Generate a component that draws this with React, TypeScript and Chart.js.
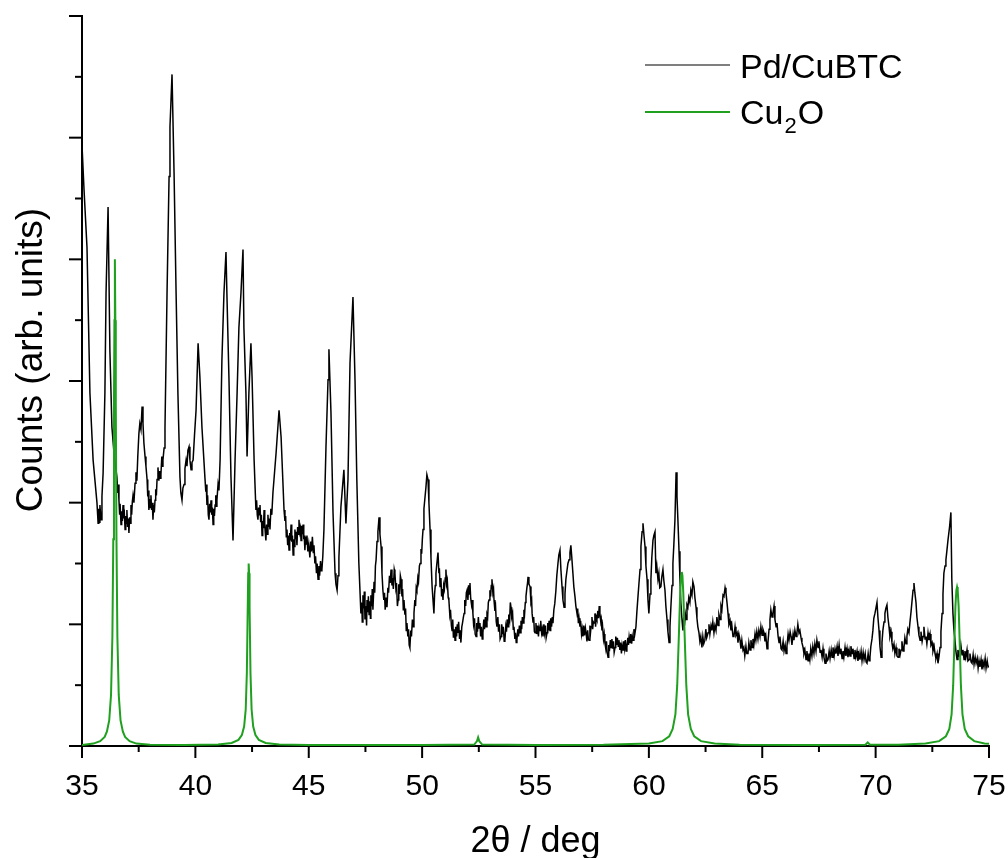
import React, { useEffect, useRef } from "react";
import { Chart, registerables } from "chart.js";

Chart.register(...registerables);

// X axis: 2θ in degrees; Y axis: counts (arbitrary units, no tick labels)
const xMin = 35;
const xMax = 75;
const xStep = 2.5;
const yMin = 0;
const yMax = 6000;
const yStep = 500;

const xTitle = "2θ / deg";
const yTitle = "Counts (arb. units)";
const seriesNames = ["Pd/CuBTC", "Cu", "2", "O"];

// Pd/CuBTC measured pattern [2θ, counts]
const pdPattern: [number, number][] = [
  [35.00,4940],[35.09,4570],[35.22,4100],[35.35,2900],[35.49,2350],[35.66,2000],[35.69,1900],[35.71,1830],[35.74,1950],[35.76,1840],
  [35.79,1980],[35.82,1900],[35.84,1860],[35.88,2050],[35.93,2240],[36.01,2900],[36.06,3720],[36.15,4430],[36.23,3250],[36.32,2620],
  [36.41,2410],[36.54,2210],[36.58,2080],[36.60,2150],[36.63,2020],[36.66,1900],[36.68,1990],[36.72,1820],[36.75,1930],[36.78,1850],
  [36.81,1980],[36.84,1870],[36.87,1900],[36.90,1780],[36.93,1890],[36.95,1830],[36.98,1940],[37.01,1800],[37.04,1870],[37.07,1750],
  [37.10,1880],[37.13,1830],[37.16,1980],[37.19,1900],[37.22,2010],[37.25,2060],[37.29,2000],[37.34,2160],[37.38,2250],[37.42,2180],
  [37.46,2380],[37.51,2570],[37.55,2650],[37.60,2600],[37.65,2790],[37.69,2650],[37.73,2490],[37.78,2380],[37.82,2300],[37.87,2190],
  [37.90,2050],[37.92,2100],[37.95,1940],[37.98,2030],[38.01,1960],[38.04,2060],[38.07,1940],[38.10,2000],[38.13,1860],[38.16,1980],
  [38.19,1920],[38.22,2020],[38.25,2110],[38.28,2060],[38.31,2190],[38.35,2290],[38.39,2180],[38.42,2260],[38.45,2200],[38.48,2230],
  [38.52,2380],[38.55,2300],[38.57,2350],[38.62,2450],[38.66,2620],[38.75,3720],[38.84,4680],[38.88,5090],[38.97,5520],[39.06,4710],
  [39.15,3720],[39.23,2900],[39.32,2210],[39.36,2080],[39.41,2020],[39.45,2120],[39.50,2150],[39.54,2280],[39.59,2350],[39.63,2300],
  [39.67,2430],[39.72,2460],[39.76,2350],[39.81,2270],[39.85,2330],[39.90,2350],[39.96,2550],[40.03,2760],[40.12,3310],[40.20,3030],
  [40.29,2620],[40.42,2210],[40.46,2090],[40.48,2150],[40.51,1980],[40.54,2060],[40.57,1900],[40.60,1860],[40.63,1990],[40.66,1920],
  [40.69,2020],[40.72,1900],[40.75,1960],[40.78,1820],[40.81,1950],[40.84,1890],[40.87,1980],[40.90,2060],[40.92,1970],[40.95,2020],
  [41.00,2150],[41.04,2100],[41.09,2350],[41.17,3170],[41.26,3720],[41.35,4060],[41.39,3720],[41.48,3030],[41.57,2210],[41.66,1690],
  [41.75,2350],[41.84,2900],[41.92,3440],[42.01,3720],[42.10,4080],[42.14,3440],[42.23,2900],[42.28,2380],[42.36,2900],[42.45,3310],
  [42.50,3030],[42.59,2350],[42.67,1940],[42.70,2020],[42.73,1900],[42.76,1860],[42.79,1960],[42.82,1900],[42.85,1980],[42.88,1840],
  [42.91,1900],[42.94,1730],[42.97,1850],[43.00,1790],[43.03,1940],[43.06,1820],[43.08,1760],[43.11,1690],[43.14,1820],[43.17,1740],
  [43.20,1900],[43.23,1800],[43.26,1870],[43.29,1780],[43.33,1950],[43.37,1900],[43.42,2080],[43.56,2410],[43.69,2760],[43.78,2540],
  [43.91,1940],[43.95,1850],[43.98,1890],[44.01,1720],[44.04,1780],[44.07,1650],[44.10,1730],[44.13,1610],[44.16,1750],[44.19,1690],
  [44.22,1820],[44.25,1680],[44.28,1730],[44.31,1570],[44.34,1700],[44.36,1640],[44.39,1780],[44.42,1700],[44.45,1760],[44.48,1650],
  [44.51,1800],[44.54,1740],[44.57,1860],[44.60,1760],[44.63,1790],[44.66,1690],[44.69,1810],[44.72,1740],[44.75,1820],[44.78,1700],
  [44.80,1730],[44.83,1610],[44.86,1720],[44.89,1660],[44.92,1730],[44.96,1600],[45.00,1660],[45.05,1550],[45.09,1680],[45.12,1600],
  [45.16,1720],[45.20,1590],[45.23,1650],[45.27,1500],[45.30,1560],[45.34,1420],[45.37,1500],[45.41,1370],[45.45,1480],[45.48,1400],
  [45.52,1520],[45.55,1440],[45.58,1450],[45.62,1560],[45.67,1780],[45.76,2460],[45.85,3010],[45.89,3260],[45.98,2740],[46.07,1920],
  [46.16,1420],[46.20,1330],[46.25,1280],[46.29,1400],[46.33,1550],[46.42,1970],[46.55,2270],[46.64,1830],[46.73,2190],[46.82,3150],
  [46.95,3690],[47.04,3010],[47.12,2190],[47.21,1500],[47.30,1090],[47.34,1180],[47.36,1020],[47.39,1240],[47.43,1130],[47.45,1270],
  [47.48,1040],[47.52,1150],[47.55,990],[47.57,1200],[47.61,1100],[47.63,1230],[47.66,1080],[47.70,1190],[47.72,1050],[47.74,1240],
  [47.78,1150],[47.80,1290],[47.83,1120],[47.88,1350],[47.91,1260],[47.94,1480],[47.97,1530],[48.01,1680],[48.05,1760],[48.10,1880],
  [48.14,1740],[48.19,1640],[48.23,1420],[48.27,1280],[48.31,1200],[48.34,1260],[48.37,1120],[48.41,1220],[48.45,1140],[48.49,1300],
  [48.52,1260],[48.56,1400],[48.59,1340],[48.63,1450],[48.67,1320],[48.70,1380],[48.73,1290],[48.77,1450],[48.80,1420],[48.84,1300],
  [48.87,1340],[48.91,1150],[48.94,1200],[48.97,1330],[49.01,1250],[49.04,1400],[49.07,1370],[49.11,1230],[49.14,1290],[49.17,1120],
  [49.20,1200],[49.24,1080],[49.27,1130],[49.30,950],[49.33,1010],[49.37,900],[49.40,960],[49.43,830],[49.46,810],[49.50,950],
  [49.53,900],[49.57,1040],[49.60,980],[49.64,1090],[49.68,1200],[49.71,1150],[49.74,1300],[49.77,1280],[49.81,1380],[49.84,1350],
  [49.88,1480],[49.91,1500],[49.95,1620],[49.98,1580],[50.01,1700],[50.04,1780],[50.08,1950],[50.12,2030],[50.17,2130],[50.21,2230],
  [50.26,2190],[50.30,2000],[50.35,1780],[50.39,1550],[50.44,1310],[50.48,1200],[50.52,1090],[50.55,1250],[50.58,1320],[50.61,1420],
  [50.65,1500],[50.70,1590],[50.74,1420],[50.76,1460],[50.79,1310],[50.83,1380],[50.86,1230],[50.89,1290],[50.92,1200],[50.95,1320],
  [50.98,1290],[51.02,1380],[51.05,1450],[51.08,1330],[51.11,1360],[51.15,1220],[51.18,1200],[51.22,1080],[51.25,1120],[51.29,990],
  [51.32,950],[51.35,1040],[51.38,890],[51.42,960],[51.45,870],[51.48,980],[51.52,900],[51.55,1000],[51.58,930],[51.61,1020],
  [51.65,880],[51.68,950],[51.71,850],[51.75,980],[51.78,1010],[51.82,1060],[51.85,1090],[51.88,1200],[51.92,1150],[51.95,1260],
  [51.98,1280],[52.02,1200],[52.05,1320],[52.08,1250],[52.11,1340],[52.14,1220],[52.18,1160],[52.21,1200],[52.24,1090],[52.27,1000],
  [52.31,1050],[52.34,920],[52.38,900],[52.41,1010],[52.44,940],[52.48,1060],[52.51,970],[52.55,1010],[52.58,900],[52.61,980],
  [52.65,880],[52.68,930],[52.72,1040],[52.75,960],[52.79,1060],[52.82,980],[52.86,1080],[52.89,1060],[52.92,1180],[52.95,1200],
  [52.99,1280],[53.02,1230],[53.05,1320],[53.08,1370],[53.12,1260],[53.15,1290],[53.17,1200],[53.21,1110],[53.24,1140],[53.27,1020],
  [53.30,980],[53.34,1060],[53.37,940],[53.41,1000],[53.44,880],[53.48,900],[53.51,1000],[53.55,920],[53.58,980],[53.62,860],
  [53.65,870],[53.69,980],[53.72,940],[53.75,1040],[53.79,980],[53.82,1080],[53.86,1040],[53.89,1180],[53.92,1140],[53.95,1060],
  [53.99,1090],[54.02,960],[54.05,980],[54.09,880],[54.12,930],[54.15,850],[54.18,870],[54.22,960],[54.25,900],[54.29,990],
  [54.32,930],[54.36,1030],[54.39,960],[54.42,1060],[54.45,1010],[54.49,1120],[54.52,1090],[54.55,1180],[54.58,1230],[54.62,1300],
  [54.65,1340],[54.67,1390],[54.71,1330],[54.76,1310],[54.80,1180],[54.83,1200],[54.85,1090],[54.89,1020],[54.92,1060],[54.95,940],
  [54.98,930],[55.02,1010],[55.05,920],[55.09,990],[55.13,900],[55.16,980],[55.20,950],[55.23,1030],[55.27,930],[55.30,960],
  [55.33,900],[55.37,1000],[55.40,930],[55.44,990],[55.47,890],[55.51,930],[55.54,1010],[55.57,950],[55.60,1030],[55.64,950],
  [55.67,1050],[55.71,980],[55.74,1060],[55.77,1010],[55.81,1120],[55.85,1170],[55.90,1280],[55.94,1400],[55.99,1500],[56.03,1570],
  [56.08,1610],[56.12,1450],[56.17,1310],[56.21,1200],[56.26,1140],[56.30,1250],[56.34,1370],[56.38,1430],[56.43,1500],[56.48,1530],
  [56.52,1590],[56.56,1650],[56.60,1550],[56.65,1420],[56.69,1310],[56.74,1230],[56.78,1150],[56.83,1090],[56.86,1130],[56.89,1010],
  [56.92,1050],[56.96,980],[56.99,1030],[57.03,920],[57.06,960],[57.09,900],[57.13,990],[57.16,910],[57.20,970],[57.23,930],
  [57.27,860],[57.30,950],[57.33,880],[57.36,870],[57.40,990],[57.43,940],[57.45,980],[57.49,1060],[57.52,960],[57.55,1020],
  [57.58,1010],[57.62,1090],[57.65,980],[57.68,1060],[57.71,1040],[57.75,1110],[57.78,1050],[57.81,1150],[57.84,1090],[57.88,1020],
  [57.90,1040],[57.93,950],[57.96,980],[58.00,880],[58.03,920],[58.06,850],[58.10,800],[58.13,860],[58.16,770],[58.20,730],
  [58.23,830],[58.26,780],[58.30,870],[58.33,810],[58.37,880],[58.40,800],[58.44,860],[58.47,770],[58.51,810],[58.54,900],
  [58.58,830],[58.61,890],[58.65,820],[58.68,870],[58.72,790],[58.75,850],[58.79,760],[58.82,830],[58.86,790],[58.89,860],
  [58.93,800],[58.96,870],[59.00,780],[59.03,810],[59.07,890],[59.10,830],[59.13,900],[59.17,850],[59.20,920],[59.24,840],
  [59.27,900],[59.30,870],[59.34,960],[59.38,920],[59.43,980],[59.47,1100],[59.52,1230],[59.56,1330],[59.61,1450],[59.65,1640],
  [59.70,1760],[59.74,1830],[59.78,1740],[59.83,1640],[59.87,1480],[59.92,1370],[59.96,1200],[60.00,1090],[60.05,1250],[60.09,1370],
  [60.13,1550],[60.18,1690],[60.22,1730],[60.27,1760],[60.31,1420],[60.35,1480],[60.40,1370],[60.44,1420],[60.48,1300],[60.53,1310],
  [60.57,1390],[60.62,1450],[60.66,1360],[60.71,1280],[60.75,1150],[60.80,1040],[60.84,940],[60.89,850],[60.93,980],[60.97,1140],
  [61.02,1320],[61.06,1500],[61.10,1650],[61.15,1860],[61.20,2250],[61.24,2050],[61.28,1860],[61.33,1600],[61.37,1370],[61.41,1180],
  [61.46,1040],[61.50,950],[61.54,1060],[61.57,990],[61.61,1080],[61.64,1040],[61.68,1160],[61.72,1140],[61.76,1220],[61.81,1180],
  [61.85,1280],[61.90,1240],[61.94,1350],[61.99,1310],[62.03,1220],[62.08,1140],[62.12,1050],[62.16,980],[62.21,930],[62.25,860],
  [62.29,900],[62.34,810],[62.38,900],[62.42,840],[62.47,870],[62.51,960],[62.55,890],[62.61,930],[62.65,1000],[62.69,920],
  [62.74,990],[62.78,950],[62.82,1020],[62.87,930],[62.91,990],[62.96,950],[63.00,1060],[63.05,990],[63.09,1080],[63.14,1040],
  [63.18,1150],[63.22,1120],[63.27,1240],[63.31,1230],[63.36,1300],[63.40,1260],[63.45,1170],[63.49,1090],[63.53,1000],[63.58,1030],
  [63.62,950],[63.66,990],[63.71,900],[63.75,900],[63.80,980],[63.84,910],[63.89,930],[63.93,850],[63.97,920],[64.02,870],
  [64.06,800],[64.10,870],[64.15,790],[64.19,810],[64.23,740],[64.28,820],[64.32,760],[64.37,760],[64.41,850],[64.46,790],
  [64.50,870],[64.55,810],[64.59,880],[64.63,830],[64.68,920],[64.72,870],[64.76,940],[64.81,880],[64.85,950],[64.90,900],
  [64.94,980],[64.99,910],[65.03,960],[65.08,930],[65.12,860],[65.16,900],[65.21,800],[65.25,850],[65.30,960],[65.34,1040],
  [65.38,1120],[65.43,1060],[65.47,1090],[65.52,1150],[65.56,1040],[65.61,980],[65.65,1010],[65.70,900],[65.74,850],[65.78,900],
  [65.83,800],[65.87,790],[65.92,860],[65.96,780],[66.01,830],[66.05,760],[66.09,820],[66.14,920],[66.18,870],[66.23,940],
  [66.27,900],[66.31,830],[66.36,920],[66.40,870],[66.44,950],[66.49,900],[66.53,930],[66.57,1000],[66.62,930],[66.66,950],
  [66.71,890],[66.75,850],[66.80,810],[66.84,760],[66.88,790],[66.93,710],[66.97,780],[67.02,700],[67.06,760],[67.10,710],
  [67.14,800],[67.19,740],[67.23,820],[67.28,760],[67.32,840],[67.37,780],[67.41,870],[67.46,810],[67.50,860],[67.55,770],
  [67.59,790],[67.64,730],[67.68,800],[67.72,730],[67.77,680],[67.81,760],[67.86,700],[67.90,710],[67.95,780],[67.99,720],
  [68.04,790],[68.08,730],[68.12,810],[68.17,740],[68.21,800],[68.25,760],[68.30,820],[68.34,740],[68.39,830],[68.43,760],
  [68.47,800],[68.52,720],[68.56,780],[68.60,730],[68.65,810],[68.69,740],[68.74,800],[68.78,730],[68.83,790],[68.87,740],
  [68.91,820],[68.96,760],[69.00,800],[69.05,720],[69.09,790],[69.13,730],[69.18,780],[69.22,700],[69.27,760],[69.31,710],
  [69.36,780],[69.40,700],[69.45,770],[69.49,710],[69.54,760],[69.58,690],[69.62,680],[69.67,760],[69.71,700],[69.75,730],
  [69.79,820],[69.84,880],[69.88,950],[69.92,1050],[69.97,1090],[70.01,1130],[70.06,1180],[70.10,1060],[70.15,950],[70.19,820],
  [70.24,730],[70.28,850],[70.32,950],[70.37,1020],[70.41,1090],[70.45,1130],[70.50,1160],[70.54,1060],[70.59,980],[70.63,900],
  [70.68,940],[70.72,850],[70.76,800],[70.81,840],[70.85,760],[70.90,810],[70.94,740],[70.99,730],[71.03,800],[71.08,750],
  [71.12,790],[71.16,860],[71.21,780],[71.25,810],[71.29,890],[71.34,840],[71.38,900],[71.42,960],[71.47,930],[71.51,1010],
  [71.56,1100],[71.60,1180],[71.65,1280],[71.69,1340],[71.73,1260],[71.78,1180],[71.82,1060],[71.87,980],[71.91,910],[71.96,870],
  [72.00,940],[72.05,860],[72.09,900],[72.13,980],[72.18,880],[72.22,900],[72.26,840],[72.31,930],[72.35,870],[72.40,920],
  [72.44,830],[72.49,850],[72.53,780],[72.58,820],[72.62,760],[72.66,720],[72.71,760],[72.75,680],[72.80,740],[72.84,810],
  [72.88,940],[72.93,1090],[72.97,1250],[73.01,1420],[73.06,1480],[73.10,1530],[73.14,1600],[73.19,1690],[73.26,1800],[73.32,1920],
  [73.36,1370],[73.41,1090],[73.45,960],[73.50,870],[73.54,780],[73.59,710],[73.63,790],[73.68,740],[73.72,760],[73.76,830],
  [73.81,750],[73.85,790],[73.90,710],[73.94,780],[73.98,730],[74.03,790],[74.07,700],[74.12,710],[74.16,760],[74.21,690],
  [74.25,680],[74.30,750],[74.34,670],[74.39,730],[74.43,680],[74.48,720],[74.52,640],[74.56,700],[74.60,650],[74.65,710],
  [74.69,630],[74.74,690],[74.78,650],[74.83,720],[74.87,640],[74.92,700],[74.96,650],[75.00,660],
];

// Cu2O reference pattern [2θ, counts]
const cu2oPattern: [number, number][] = [
  [35.0,8],[35.5,20],[35.8,40],[36.0,75],[36.1,120],[36.2,210],[36.28,420],[36.34,900],[36.38,1700],[36.41,2800],
  [36.43,3500],[36.45,4000],[36.47,3500],[36.49,2800],[36.52,1700],[36.56,900],[36.62,420],[36.7,210],[36.8,120],[36.9,75],
  [37.1,40],[37.4,20],[38.0,10],[39.5,8],[41.0,12],[41.6,25],[41.9,50],[42.05,90],[42.15,160],[42.22,300],
  [42.27,600],[42.31,1150],[42.33,1420],[42.35,1500],[42.37,1420],[42.39,1150],[42.43,600],[42.48,300],[42.55,160],[42.65,90],
  [42.8,50],[43.1,25],[43.7,12],[45,8],[50,8],[52.3,12],[52.42,40],[52.47,70],[52.52,40],[52.65,12],
  [55,8],[58,10],[60.0,20],[60.6,40],[60.9,80],[61.05,140],[61.17,260],[61.25,500],[61.33,950],[61.38,1250],
  [61.42,1400],[61.45,1430],[61.48,1400],[61.52,1250],[61.57,950],[61.65,500],[61.73,260],[61.85,140],[62.0,80],[62.3,40],
  [62.9,20],[64,10],[67,8],[69.55,10],[69.65,30],[69.75,10],[71,10],[72.2,20],[72.8,40],[73.1,80],
  [73.25,140],[73.35,260],[73.42,500],[73.48,900],[73.52,1150],[73.56,1280],[73.59,1307],[73.62,1280],[73.66,1150],[73.7,900],
  [73.76,500],[73.83,260],[73.93,140],[74.08,80],[74.35,40],[74.8,20],[75,18],
];

const FONT = '"Liberation Sans", Arial, Helvetica, sans-serif';
const BLACK_LINE = "#000000";
const GREEN_LINE = "#1fa01f";

const decorPlugin = {
  id: "decor",
  beforeDatasetsDraw(chart: any) {
    const { ctx, chartArea } = chart;
    ctx.save();
    ctx.strokeStyle = "#000";
    ctx.lineWidth = 2;
    ctx.beginPath();
    ctx.moveTo(chartArea.left, chartArea.top - 1);
    ctx.lineTo(chartArea.left, chartArea.bottom);
    ctx.lineTo(chartArea.right + 1, chartArea.bottom);
    ctx.stroke();
    ctx.restore();
  },
  afterDraw(chart: any) {
    const { ctx, chartArea, scales } = chart;
    const xs = scales.x;
    const ys = scales.y;
    ctx.save();
    ctx.strokeStyle = "#000";
    ctx.lineWidth = 2;
    ctx.fillStyle = "#000";
    ctx.font = `30px ${FONT}`;
    ctx.textAlign = "center";
    ctx.textBaseline = "alphabetic";
    xs.ticks.forEach((t: any) => {
      const px = xs.getPixelForValue(t.value);
      const major = Math.abs(t.value % 5) < 1e-6;
      ctx.beginPath();
      ctx.moveTo(px, chartArea.bottom);
      ctx.lineTo(px, chartArea.bottom + (major ? 12 : 6));
      ctx.stroke();
      if (major) ctx.fillText(String(t.value), px, chartArea.bottom + 49);
    });
    ys.ticks.forEach((t: any) => {
      const py = ys.getPixelForValue(t.value);
      const major = Math.abs(t.value % 1000) < 1e-6;
      ctx.beginPath();
      ctx.moveTo(chartArea.left, py);
      ctx.lineTo(chartArea.left - (major ? 13 : 7), py);
      ctx.stroke();
    });
    ctx.font = `36px ${FONT}`;
    ctx.textAlign = "center";
    ctx.fillText(xTitle, (chartArea.left + chartArea.right) / 2, 852);
    ctx.save();
    ctx.translate(42, 360);
    ctx.rotate(-Math.PI / 2);
    ctx.font = `37px ${FONT}`;
    ctx.fillText(yTitle, 0, 0);
    ctx.restore();
    // legend
    ctx.textAlign = "left";
    ctx.lineWidth = 1.5;
    ctx.strokeStyle = "#555";
    ctx.beginPath();
    ctx.moveTo(645, 65);
    ctx.lineTo(730, 65);
    ctx.stroke();
    ctx.strokeStyle = GREEN_LINE;
    ctx.lineWidth = 2;
    ctx.beginPath();
    ctx.moveTo(645, 112);
    ctx.lineTo(730, 112);
    ctx.stroke();
    ctx.font = `34px ${FONT}`;
    ctx.fillText(seriesNames[0], 740, 78);
    let x = 740;
    ctx.fillText(seriesNames[1], x, 124);
    x += ctx.measureText(seriesNames[1]).width + 1;
    ctx.font = `22px ${FONT}`;
    ctx.fillText(seriesNames[2], x, 133);
    x += ctx.measureText(seriesNames[2]).width + 1;
    ctx.font = `34px ${FONT}`;
    ctx.fillText(seriesNames[3], x, 124);
    ctx.restore();
  },
};

export default function App() {
  const ref = useRef<HTMLCanvasElement>(null);
  useEffect(() => {
    if (!ref.current) return;
    const chart = new Chart(ref.current, {
      type: "line",
      data: {
        datasets: [
          {
            label: "Cu2O",
            data: cu2oPattern.map(([x, y]) => ({ x, y })),
            borderColor: GREEN_LINE,
            borderWidth: 2,
            pointRadius: 0,
            tension: 0,
            order: 0,
          },
          {
            label: "Pd/CuBTC",
            data: pdPattern.map(([x, y]) => ({ x, y })),
            borderColor: BLACK_LINE,
            borderWidth: 1.5,
            pointRadius: 0,
            tension: 0,
            order: 1,
          },
        ],
      },
      options: {
        animation: false,
        responsive: false,
        events: [],
        layout: { padding: { left: 0, top: 16, right: 19, bottom: 0 } },
        plugins: { legend: { display: false }, tooltip: { enabled: false } },
        scales: {
          x: {
            type: "linear",
            min: xMin,
            max: xMax,
            ticks: { display: false, stepSize: xStep },
            grid: { display: false },
            border: { display: false },
            afterFit: (s: any) => { s.height = 112; },
          },
          y: {
            type: "linear",
            min: yMin,
            max: yMax,
            ticks: { display: false, stepSize: yStep },
            grid: { display: false },
            border: { display: false },
            afterFit: (s: any) => { s.width = 82; },
          },
        },
      },
      plugins: [decorPlugin],
    });
    return () => chart.destroy();
  }, []);
  return (
    <div style={{ position: "absolute", left: 0, top: 0, width: 1008, height: 858, background: "#fff" }}>
      <canvas ref={ref} width={1008} height={858} style={{ display: "block" }} />
    </div>
  );
}
